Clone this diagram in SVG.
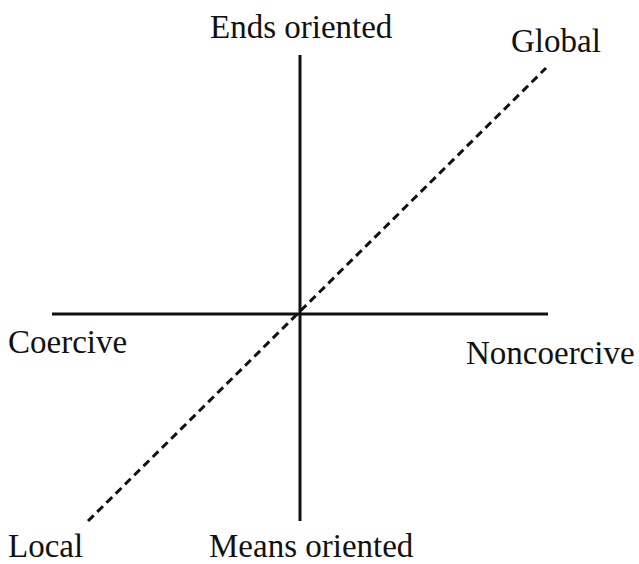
<svg xmlns="http://www.w3.org/2000/svg" width="639" height="564" viewBox="0 0 639 564">
<style>
.lbl{font-family:"Liberation Serif","Times New Roman",serif;font-size:33px;fill:#111}
.ax{stroke:#111;stroke-width:3;fill:none}
.dash{stroke:#111;stroke-width:3;stroke-dasharray:8 5;fill:none}
</style>
<rect width="639" height="564" fill="#fff"/>
<g id="connectors">
<line class="ax" x1="300" y1="55" x2="300" y2="521"/>
<line class="ax" x1="52" y1="314" x2="548" y2="314"/>
<line class="dash" x1="88" y1="521" x2="546" y2="68"/>
</g>
<g id="ends"><text class="lbl" x="210" y="38">Ends oriented</text></g>
<g id="global"><text class="lbl" x="511" y="52">Global</text></g>
<g id="coercive"><text class="lbl" x="8" y="353">Coercive</text></g>
<g id="noncoercive"><text class="lbl" x="466" y="364">Noncoercive</text></g>
<g id="local"><text class="lbl" x="8" y="557">Local</text></g>
<g id="means"><text class="lbl" x="209" y="557">Means oriented</text></g>
</svg>
